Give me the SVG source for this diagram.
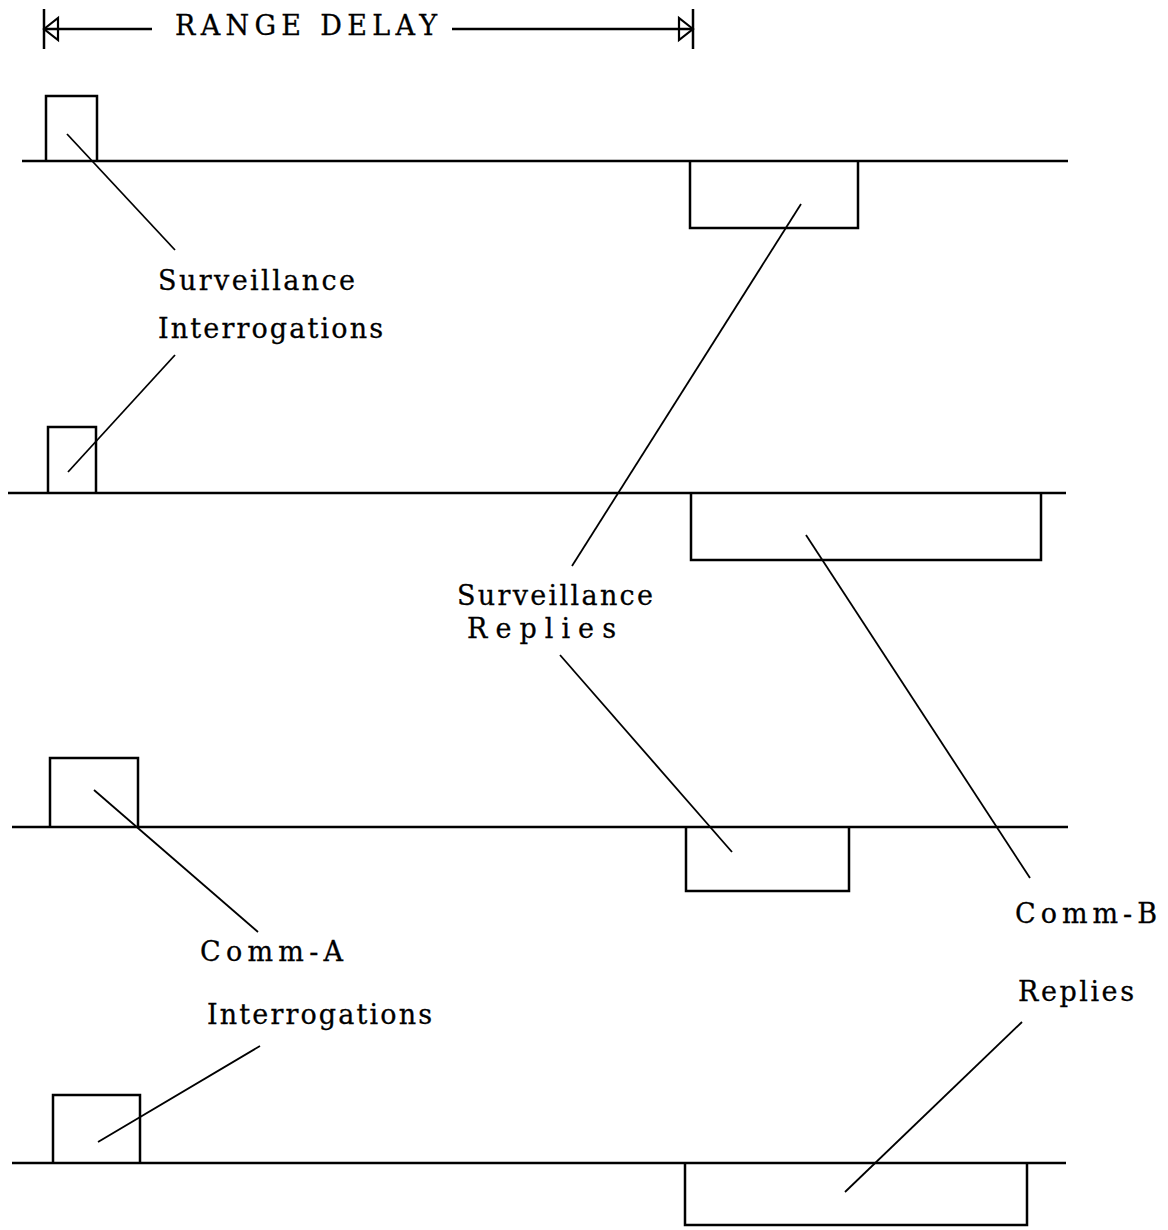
<svg xmlns="http://www.w3.org/2000/svg" width="1168" height="1230" viewBox="0 0 1168 1230">
<style>
.ax{stroke:#000;stroke-width:2.5;fill:none}
.pulse{stroke:#000;stroke-width:2.5;fill:none}
.lead{stroke:#000;stroke-width:1.8;fill:none}
.lbl{font-family:"DejaVu Serif","Liberation Serif",serif;font-size:27px;fill:#000;stroke:#000;stroke-width:0.3}
</style>
<rect width="1168" height="1230" fill="#fff"/>
<g id="range-delay">
<line class="ax" x1="44" y1="9" x2="44" y2="49"/>
<line class="ax" x1="693" y1="9" x2="693" y2="49"/>
<line class="ax" x1="44" y1="29" x2="152" y2="29"/>
<line class="ax" x1="452" y1="29" x2="693" y2="29"/>
<polygon points="44,29 58,18 58,40" fill="none" stroke="#000" stroke-width="2.2"/>
<polygon points="693,29 679,18 679,40" fill="none" stroke="#000" stroke-width="2.2"/>
<text class="lbl" x="175" y="35" textLength="262" lengthAdjust="spacing">RANGE DELAY</text>
</g>
<g id="axes">
<line class="ax" x1="22" y1="161" x2="1068" y2="161"/>
<line class="ax" x1="8" y1="493" x2="1066" y2="493"/>
<line class="ax" x1="12" y1="827" x2="1068" y2="827"/>
<line class="ax" x1="12" y1="1163" x2="1066" y2="1163"/>
</g>
<g id="surv-int-1"><polyline class="pulse" points="46,161 46,96 97,96 97,161"/></g>
<g id="surv-reply-1"><polyline class="pulse" points="690,161 690,228 858,228 858,161"/></g>
<g id="surv-int-2"><polyline class="pulse" points="48,493 48,427 96,427 96,493"/></g>
<g id="commb-reply-2"><polyline class="pulse" points="691,493 691,560 1041,560 1041,493"/></g>
<g id="comma-int-3"><polyline class="pulse" points="50,827 50,758 138,758 138,827"/></g>
<g id="surv-reply-3"><polyline class="pulse" points="686,827 686,891 849,891 849,827"/></g>
<g id="comma-int-4"><polyline class="pulse" points="53,1163 53,1095 140,1095 140,1163"/></g>
<g id="commb-reply-4"><polyline class="pulse" points="685,1163 685,1225 1027,1225 1027,1163"/></g>
<g id="label-surv-int">
<text class="lbl" x="158" y="290" textLength="197" lengthAdjust="spacing">Surveillance</text>
<text class="lbl" x="158" y="338" textLength="225" lengthAdjust="spacing">Interrogations</text>
</g>
<g id="label-surv-reply">
<text class="lbl" x="457" y="605" textLength="196" lengthAdjust="spacing">Surveillance</text>
<text class="lbl" x="467" y="638" textLength="149" lengthAdjust="spacing">Replies</text>
</g>
<g id="label-comma">
<text class="lbl" x="200" y="961" textLength="143" lengthAdjust="spacing">Comm-A</text>
<text class="lbl" x="207" y="1024" textLength="225" lengthAdjust="spacing">Interrogations</text>
</g>
<g id="label-commb">
<text class="lbl" x="1015" y="923" textLength="142" lengthAdjust="spacing">Comm-B</text>
<text class="lbl" x="1018" y="1001" textLength="116" lengthAdjust="spacing">Replies</text>
</g>
<g id="connectors">
<line class="lead" x1="67" y1="134" x2="175" y2="250"/>
<line class="lead" x1="175" y1="355" x2="68" y2="472"/>
<line class="lead" x1="572" y1="566" x2="801" y2="204"/>
<line class="lead" x1="560" y1="655" x2="732" y2="852"/>
<line class="lead" x1="1030" y1="878" x2="806" y2="535"/>
<line class="lead" x1="94" y1="790" x2="258" y2="932"/>
<line class="lead" x1="260" y1="1046" x2="98" y2="1142"/>
<line class="lead" x1="1022" y1="1022" x2="845" y2="1192"/>
</g>
</svg>
